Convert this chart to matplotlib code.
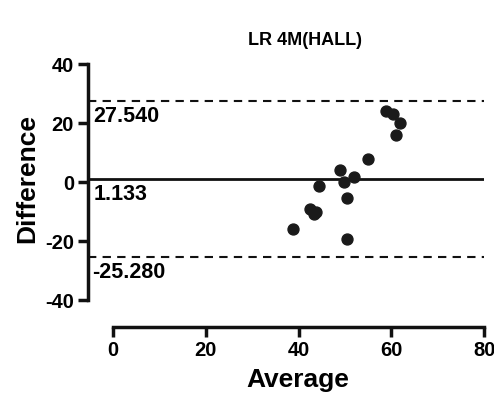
import matplotlib
matplotlib.use("Agg")
import matplotlib.pyplot as plt

plt.rcParams['font.family'] = ['Liberation Sans', 'DejaVu Sans']
plt.rcParams['font.weight'] = 'bold'
plt.rcParams['axes.unicode_minus'] = False

# Bland-Altman data
average = [58.8, 60.4, 61.8, 60.9, 54.9, 48.9, 51.9, 49.9, 44.4, 50.4, 42.4, 43.3, 43.8, 50.4, 38.9]
difference = [24.1, 23.1, 20.0, 15.9, 7.9, 4.1, 1.9, 0.0, -1.1, -5.2, -8.9, -10.8, -10.1, -19.2, -15.9]
bias = 1.133
upper = 27.540
lower = -25.280

fig = plt.figure(figsize=(4.94, 4.01), dpi=100)
ax = fig.add_axes([0.178, 0.1845, 0.802, 0.6555])

ax.scatter(average, difference, s=62, color='#1a1a1a', zorder=3)
ax.axhline(bias, color='#111111', lw=2)
ax.axhline(upper, color='#111111', lw=1.5, ls=(0, (4, 3)))
ax.axhline(lower, color='#111111', lw=1.5, ls=(0, (4, 3)))

ax.text(-4.2, upper - 1.6, f'{upper:.3f}', va='top', ha='left', fontsize=15.5, fontweight='bold')
ax.text(-4.2, bias - 1.6, f'{bias:.3f}', va='top', ha='left', fontsize=15.5, fontweight='bold')
ax.text(-4.6, lower - 1.6, f'{lower:.3f}', va='top', ha='left', fontsize=15.5, fontweight='bold')

ax.set_xlim(-5.4, 80)
ax.set_ylim(-49, 40)
ax.set_xticks([0, 20, 40, 60, 80])
ax.set_yticks([-40, -20, 0, 20, 40])

for s in ['top', 'right']:
    ax.spines[s].set_visible(False)
ax.spines['left'].set_bounds(-40, 40)
ax.spines['bottom'].set_bounds(0, 80)
ax.spines['left'].set_linewidth(2.5)
ax.spines['bottom'].set_linewidth(2.5)
ax.spines['left'].set_color('#111111')
ax.spines['bottom'].set_color('#111111')
ax.tick_params(width=2.5, length=7, labelsize=14.5, color='#111111', pad=3)
for lab in ax.get_xticklabels() + ax.get_yticklabels():
    lab.set_fontweight('bold')

ax.set_xlabel('Average', fontsize=19, fontweight='bold', labelpad=6)
ax.set_ylabel('Difference', fontsize=19, fontweight='bold', labelpad=4)
ax.xaxis.label.set_x(0.53)
ax.yaxis.label.set_y(0.565)
ax.set_title('LR 4M(HALL)', fontsize=13, fontweight='bold', pad=14, x=0.548)

fig.savefig('out.png', dpi=100)
